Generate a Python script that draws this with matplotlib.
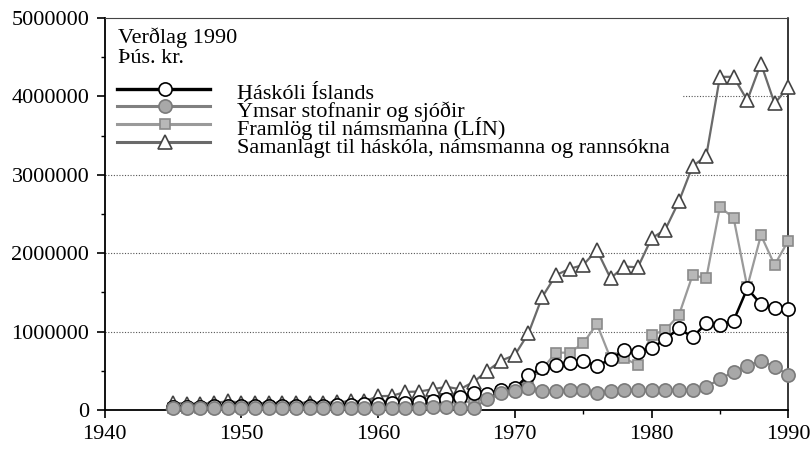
import numpy as np
import matplotlib as mpl
mpl.use('Agg')
import matplotlib.pyplot as plt
from matplotlib.ticker import MultipleLocator
from matplotlib.patches import Rectangle

plt.rcParams['font.family'] = ['Liberation Serif', 'DejaVu Serif']

years = list(range(1945, 1991))

haskoli = [40, 40, 40, 45, 50, 45, 45, 45, 50, 50, 55, 55, 60, 65, 70, 80,
           85, 95, 105, 120, 140, 160,
           213, 208, 255, 276, 446, 531, 574, 595, 629, 561, 646, 765, 744,
           787, 902, 1042, 927, 1106, 1084, 1140, 1550, 1350, 1300, 1285]
ymsar = [20, 20, 20, 20, 25, 20, 20, 20, 20, 20, 20, 25, 20, 20, 25, 30,
         25, 30, 30, 35, 40, 30,
         30, 136, 213, 247, 276, 247, 247, 255, 255, 213, 247, 255, 255,
         255, 255, 255, 255, 298, 391, 489, 561, 629, 553, 446]
lin = [30, 30, 30, 35, 40, 35, 35, 35, 35, 40, 40, 40, 40, 45, 45, 60,
       60, 70, 75, 80, 90, 80,
       120, 180, 230, 270, 380, 520, 731, 731, 850, 1097, 659, 659, 574,
       957, 1020, 1210, 1720, 1680, 2590, 2450, 1570, 2230, 1850, 2160]
samanlagt = [90, 80, 80, 90, 110, 95, 90, 85, 90, 90, 95, 90, 100, 110,
             110, 175, 180, 230, 235, 265, 295, 265,
             360, 500, 630, 700, 980, 1440, 1720, 1800, 1850, 2040, 1680,
             1830, 1820, 2190, 2300, 2660, 3110, 3240, 4250, 4250, 3950,
             4420, 3910, 4120]

labels = ['Háskóli Íslands', 'Ýmsar stofnanir og sjóðir',
          'Framlög til námsmanna (LÍN)',
          'Samanlagt til háskóla, námsmanna og rannsókna']
title_lines = ['Verðlag 1990', 'Þús. kr.']

# series styles: (data, line colour, lw, marker, ms, face, edge, zorder)
styles = [
    (haskoli, 'black', 1.8, 'o', 9.5, 'white', 'black', 5),
    (ymsar, '#808080', 1.6, 'o', 9.5, '#a8a8a8', '#7a7a7a', 6),
    (lin, '#9a9a9a', 1.6, 's', 7, '#b8b8b8', '#8a8a8a', 4),
    (samanlagt, '#6a6a6a', 1.6, '^', 10, 'white', '#444444', 3),
]

fig = plt.figure(figsize=(8.11, 4.51), dpi=100)
ax = fig.add_axes([0.129, 0.091, 0.843, 0.869])

for data, col, lw, mk, ms, fc, ec, zo in styles:
    ax.plot(years, np.array(data) * 1000, color=col, lw=lw, marker=mk,
            ms=ms, mfc=fc, mec=ec, mew=1.2, zorder=zo, clip_on=False)

ax.set_xlim(1940, 1990)
ax.set_ylim(0, 5000000)
ax.xaxis.set_major_locator(MultipleLocator(10))
ax.xaxis.set_minor_locator(MultipleLocator(5))
ax.yaxis.set_major_locator(MultipleLocator(1000000))
ax.yaxis.set_minor_locator(MultipleLocator(500000))
ax.tick_params(which='major', direction='out', length=6, width=1.2,
               labelsize=16, color='black')
ax.tick_params(which='minor', direction='out', length=3, width=1.0)
ax.tick_params(axis='x', pad=5)
ax.tick_params(axis='y', pad=5)
ax.set_xticklabels(['%d' % v for v in ax.get_xticks()])
ax.set_yticklabels(['%d' % v for v in ax.get_yticks()])

for y in [1000000, 2000000, 3000000, 4000000]:
    ax.axhline(y, color='#555555', lw=0.8, ls=(0, (1, 1.5)), zorder=1)

ax.spines['left'].set_linewidth(1.3)
ax.spines['bottom'].set_linewidth(1.3)
ax.spines['right'].set_linewidth(1.1)
ax.spines['top'].set_linewidth(0.8)
ax.spines['top'].set_color('#444444')

# legend box (white, hides the grid line behind it)
ax.add_patch(Rectangle((0.0, 0.64), 0.845, 0.36, transform=ax.transAxes,
                       facecolor='white', edgecolor='none', zorder=1.5))
for ty, line in zip([0.936, 0.885], title_lines):
    ax.text(0.019, ty, line, transform=ax.transAxes, fontsize=16,
            va='baseline', ha='left', zorder=7)

# legend entries: handle centre heights and label baselines (axes fraction)
handle_y = [0.819, 0.776, 0.730, 0.684]
label_y = [0.793, 0.747, 0.702, 0.656]
hx0, hxm, hx1, tx = 0.018, 0.088, 0.154, 0.193
for (data, col, lw, mk, ms, fc, ec, zo), hy, ly, lab in zip(
        styles, handle_y, label_y, labels):
    ax.plot([hx0, hxm, hx1], [hy, hy, hy], transform=ax.transAxes,
            color=col, lw=lw + 0.6, marker=mk, ms=ms, mfc=fc, mec=ec,
            mew=1.2, markevery=[1], zorder=7, clip_on=False)
    ax.text(tx, ly, lab, transform=ax.transAxes, fontsize=16,
            va='baseline', ha='left', zorder=7)

fig.savefig('out.png', dpi=100)
